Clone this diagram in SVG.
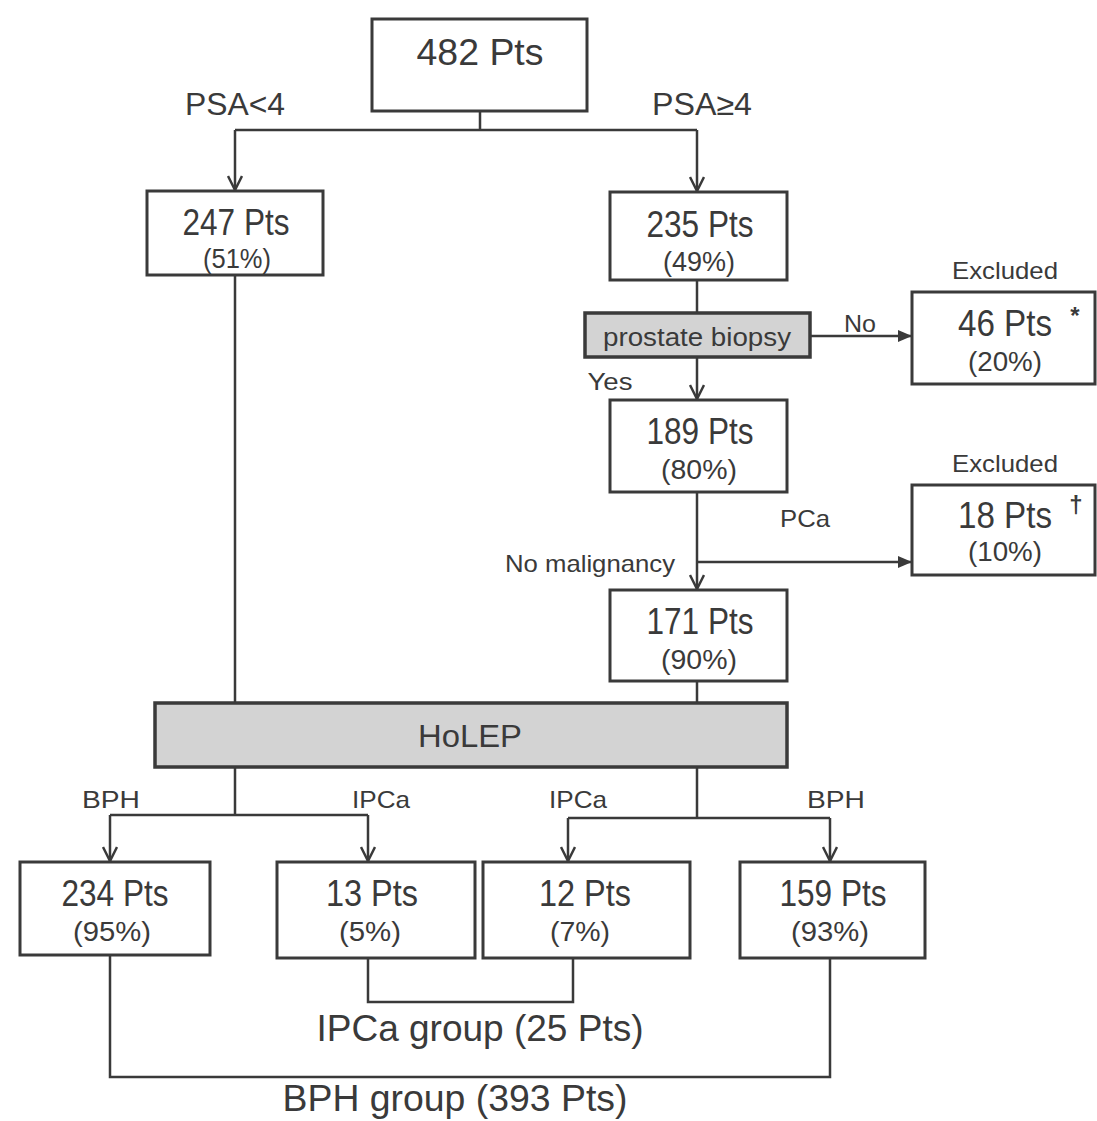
<svg xmlns="http://www.w3.org/2000/svg" width="1097" height="1121" viewBox="0 0 1097 1121">
<defs>
<style>
.box{fill:#fff;stroke:#3a3a3a;stroke-width:3}
.gbox{fill:#d3d3d3;stroke:#3a3a3a;stroke-width:3.5}
.ln{fill:none;stroke:#3a3a3a;stroke-width:2.5}
text{font-family:"Liberation Sans",Arial,sans-serif;fill:#3a3a3a;text-anchor:middle}
.big{font-size:37px}
.pct{font-size:27px}
.lbl{font-size:31px}
.sm{font-size:24px}
.grp{font-size:37px}
</style>
<marker id="open" viewBox="0 0 16 16" refX="15" refY="8" markerWidth="16" markerHeight="16" markerUnits="userSpaceOnUse" orient="auto">
<path d="M1,1 L15,8 L1,15" fill="none" stroke="#3a3a3a" stroke-width="2.5"/>
</marker>
<marker id="fill" viewBox="0 0 14 14" refX="13" refY="7" markerWidth="14" markerHeight="14" markerUnits="userSpaceOnUse" orient="auto">
<path d="M0,1 L14,7 L0,13 z" fill="#3a3a3a"/>
</marker>
</defs>
<rect width="1097" height="1121" fill="#fff"/>

<g id="connectors">
<path class="ln" d="M480,111 V130 M235,130 H697"/>
<path class="ln" d="M235,130 V190" marker-end="url(#open)"/>
<path class="ln" d="M697,130 V191" marker-end="url(#open)"/>
<path class="ln" d="M697,280 V313"/>
<path class="ln" d="M810,336 H911" marker-end="url(#fill)"/>
<path class="ln" d="M697,357 V399" marker-end="url(#open)"/>
<path class="ln" d="M697,492 V589" marker-end="url(#open)"/>
<path class="ln" d="M697,562 H911" marker-end="url(#fill)"/>
<path class="ln" d="M697,681 V703 M235,275 V703"/>
<path class="ln" d="M235,767 V815 M110,815 H368 M697,767 V818 M568,818 H830"/>
<path class="ln" d="M110,815 V861" marker-end="url(#open)"/>
<path class="ln" d="M368,815 V861" marker-end="url(#open)"/>
<path class="ln" d="M568,818 V861" marker-end="url(#open)"/>
<path class="ln" d="M830,818 V861" marker-end="url(#open)"/>
<path class="ln" d="M368,958 V1002 H573 V958"/>
<path class="ln" d="M110,955 V1077 H830 V958"/>
</g>

<g id="labels">
<text class="lbl" x="235" y="115" textLength="100" lengthAdjust="spacingAndGlyphs">PSA&lt;4</text>
<text class="lbl" x="702" y="115" textLength="100" lengthAdjust="spacingAndGlyphs">PSA≥4</text>
<text class="sm" x="860" y="332" textLength="32" lengthAdjust="spacingAndGlyphs">No</text>
<text class="sm" x="610" y="390" textLength="45" lengthAdjust="spacingAndGlyphs">Yes</text>
<text class="sm" x="805" y="527" textLength="50" lengthAdjust="spacingAndGlyphs">PCa</text>
<text class="sm" x="590" y="572" textLength="170" lengthAdjust="spacingAndGlyphs">No malignancy</text>
<text class="sm" x="111" y="808" textLength="58" lengthAdjust="spacingAndGlyphs">BPH</text>
<text class="sm" x="381" y="808" textLength="58" lengthAdjust="spacingAndGlyphs">IPCa</text>
<text class="sm" x="578" y="808" textLength="58" lengthAdjust="spacingAndGlyphs">IPCa</text>
<text class="sm" x="836" y="808" textLength="58" lengthAdjust="spacingAndGlyphs">BPH</text>
<text class="grp" x="480" y="1041" textLength="327" lengthAdjust="spacingAndGlyphs">IPCa group (25 Pts)</text>
<text class="grp" x="455" y="1111" textLength="345" lengthAdjust="spacingAndGlyphs">BPH group (393 Pts)</text>
</g>

<g id="n482">
<rect class="box" x="372" y="19" width="215" height="92"/>
<text class="big" x="480" y="65" textLength="127" lengthAdjust="spacingAndGlyphs">482 Pts</text>
</g>
<g id="n247">
<rect class="box" x="147" y="191" width="176" height="84"/>
<text class="big" x="236" y="235" textLength="107" lengthAdjust="spacingAndGlyphs">247 Pts</text>
<text class="pct" x="237" y="268" textLength="68" lengthAdjust="spacingAndGlyphs">(51%)</text>
</g>
<g id="n235">
<rect class="box" x="610" y="192" width="177" height="88"/>
<text class="big" x="700" y="237" textLength="107" lengthAdjust="spacingAndGlyphs">235 Pts</text>
<text class="pct" x="699" y="271" textLength="72" lengthAdjust="spacingAndGlyphs">(49%)</text>
</g>
<g id="biopsy">
<rect class="gbox" x="585" y="313" width="225" height="44"/>
<text class="sm" x="697" y="346" style="font-size:26px" textLength="188" lengthAdjust="spacingAndGlyphs">prostate biopsy</text>
</g>
<g id="n46">
<text class="sm" x="1005" y="279" textLength="106" lengthAdjust="spacingAndGlyphs">Excluded</text>
<rect class="box" x="912" y="292" width="183" height="92"/>
<text class="big" x="1005" y="336" textLength="94" lengthAdjust="spacingAndGlyphs">46 Pts</text>
<text class="sm" x="1075" y="324" style="font-weight:bold">*</text>
<text class="pct" x="1005" y="371" textLength="74" lengthAdjust="spacingAndGlyphs">(20%)</text>
</g>
<g id="n189">
<rect class="box" x="610" y="400" width="177" height="92"/>
<text class="big" x="700" y="444" textLength="107" lengthAdjust="spacingAndGlyphs">189 Pts</text>
<text class="pct" x="699" y="479" textLength="76" lengthAdjust="spacingAndGlyphs">(80%)</text>
</g>
<g id="n18">
<text class="sm" x="1005" y="472" textLength="106" lengthAdjust="spacingAndGlyphs">Excluded</text>
<rect class="box" x="912" y="485" width="183" height="90"/>
<text class="big" x="1005" y="528" textLength="94" lengthAdjust="spacingAndGlyphs">18 Pts</text>
<text class="sm" x="1076" y="513" style="font-weight:bold">†</text>
<text class="pct" x="1005" y="561" textLength="74" lengthAdjust="spacingAndGlyphs">(10%)</text>
</g>
<g id="n171">
<rect class="box" x="610" y="590" width="177" height="91"/>
<text class="big" x="700" y="634" textLength="107" lengthAdjust="spacingAndGlyphs">171 Pts</text>
<text class="pct" x="699" y="669" textLength="76" lengthAdjust="spacingAndGlyphs">(90%)</text>
</g>
<g id="holep">
<rect class="gbox" x="155" y="703" width="632" height="64"/>
<text class="lbl" x="470" y="747" textLength="104" lengthAdjust="spacingAndGlyphs">HoLEP</text>
</g>
<g id="n234">
<rect class="box" x="20" y="862" width="190" height="93"/>
<text class="big" x="115" y="906" textLength="107" lengthAdjust="spacingAndGlyphs">234 Pts</text>
<text class="pct" x="112" y="941" textLength="78" lengthAdjust="spacingAndGlyphs">(95%)</text>
</g>
<g id="n13">
<rect class="box" x="277" y="862" width="198" height="96"/>
<text class="big" x="372" y="906" textLength="92" lengthAdjust="spacingAndGlyphs">13 Pts</text>
<text class="pct" x="370" y="941" textLength="62" lengthAdjust="spacingAndGlyphs">(5%)</text>
</g>
<g id="n12">
<rect class="box" x="483" y="862" width="207" height="96"/>
<text class="big" x="585" y="906" textLength="92" lengthAdjust="spacingAndGlyphs">12 Pts</text>
<text class="pct" x="580" y="941" textLength="60" lengthAdjust="spacingAndGlyphs">(7%)</text>
</g>
<g id="n159">
<rect class="box" x="740" y="862" width="185" height="96"/>
<text class="big" x="833" y="906" textLength="107" lengthAdjust="spacingAndGlyphs">159 Pts</text>
<text class="pct" x="830" y="941" textLength="78" lengthAdjust="spacingAndGlyphs">(93%)</text>
</g>
</svg>
